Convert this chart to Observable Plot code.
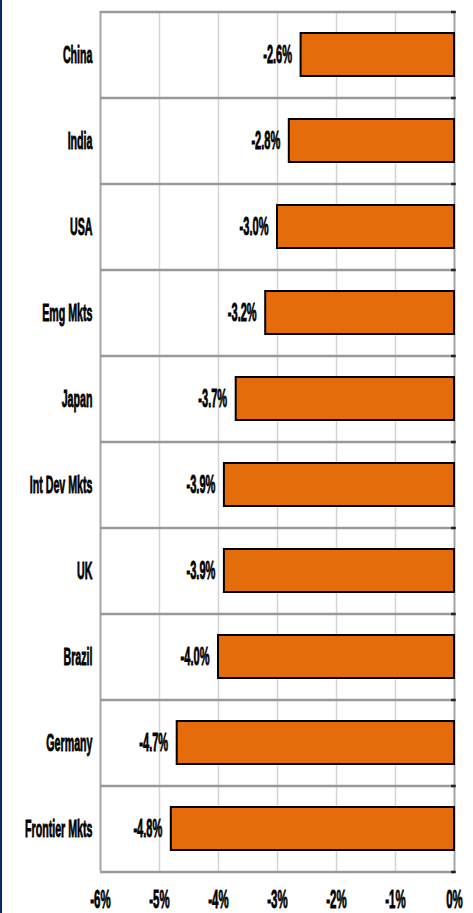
<!DOCTYPE html>
<html>
<head>
<meta charset="utf-8">
<script src="https://cdn.jsdelivr.net/npm/d3@7"></script>
<script src="https://cdn.jsdelivr.net/npm/@observablehq/plot@0.6"></script>
<style>
  html, body { margin: 0; padding: 0; background: #fff; }
  #wrap { position: relative; width: 473px; height: 913px; overflow: hidden; }
  #edge { position: absolute; left: 0; top: 0; width: 2px; height: 913px; background: #0b2a6b; }
</style>
</head>
<body>
<div id="wrap"><div id="edge"></div></div>
<script>
const categories = ["China", "India", "USA", "Emg Mkts", "Japan", "Int Dev Mkts", "UK", "Brazil", "Germany", "Frontier Mkts"];
const values = [-2.6, -2.8, -3.0, -3.2, -3.7, -3.9, -3.9, -4.0, -4.7, -4.8];
const xTicks = [-6, -5, -4, -3, -2, -1, 0];

const data = categories.map((c, i) => ({category: c, value: values[i]}));

const W = 473, H = 913, mT = 11, mB = 42;
const step = (H - mT - mB) / categories.length;

const chart = Plot.plot({
  width: W,
  height: H,
  marginLeft: 100,
  marginRight: 19,
  marginTop: mT,
  marginBottom: mB,
  x: {domain: [-6, 0]},
  y: {domain: categories, paddingInner: 0.5, paddingOuter: 0.25},
  style: {
    fontFamily: "'Liberation Sans', Arial, sans-serif",
    fontWeight: "bold",
    background: "transparent",
    color: "#000"
  },
  marks: [
    Plot.ruleX(xTicks.slice(1, -1), {stroke: "#d4d4d4", strokeWidth: 1.5}),
    Plot.ruleX([xTicks[0], xTicks[xTicks.length - 1]], {stroke: "#a6a6a6", strokeWidth: 2}),
    Plot.ruleY(categories, {y: d => d, dy: -step / 2, stroke: "#999", strokeWidth: 2.5}),
    Plot.ruleY([categories[categories.length - 1]], {y: d => d, dy: step / 2, stroke: "#999", strokeWidth: 2.5}),
    Plot.ruleY(categories, {y: d => d, x1: -0.05, x2: 0.03, dy: -step / 2, stroke: "#222", strokeWidth: 2.5}),
    Plot.ruleY([categories[categories.length - 1]], {y: d => d, x1: -0.05, x2: 0.03, dy: step / 2, stroke: "#222", strokeWidth: 2.5}),
    Plot.barX(data, {x: "value", y: "category", fill: "#E46C0A", stroke: "#000", strokeWidth: 2}),
    Plot.text(data, {x: "value", y: "category", text: d => d.value.toFixed(1) + "%", textAnchor: "end", dx: -9, fontSize: 13.5, fontWeight: "bold"}),
    Plot.axisY({tickSize: 0, tickPadding: 8, fontSize: 13, label: null}),
    Plot.axisX({ticks: xTicks, tickSize: 0, tickPadding: 18, fontSize: 14, tickFormat: d => d + "%", label: null})
  ]
});

// narrow, vertically stretched heavy text as in the reference
d3.select(chart).selectAll("text").each(function() {
  const t = this.getAttribute("transform") || "";
  this.setAttribute("transform", (t + " scale(0.82,1.85)").trim());
  this.style.stroke = "#000";
  this.style.strokeWidth = "0.45px";
});

document.getElementById("wrap").prepend(chart);
</script>
</body>
</html>
